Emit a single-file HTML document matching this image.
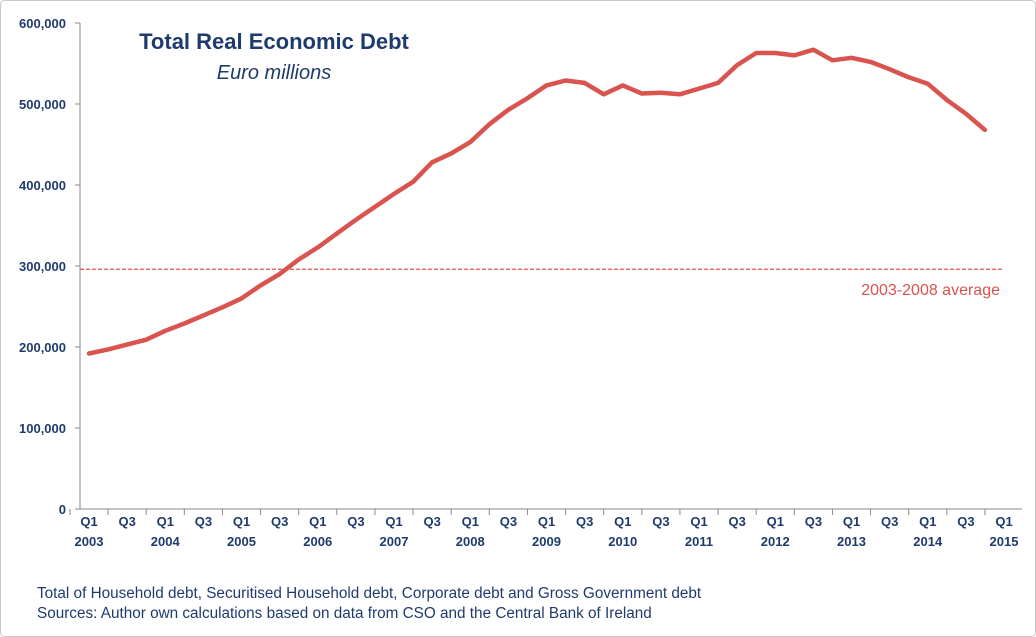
<!DOCTYPE html>
<html><head><meta charset="utf-8"><style>
html,body{margin:0;padding:0;background:#fff;}
svg{display:block;font-family:"Liberation Sans",sans-serif;}
</style></head><body>
<svg width="1036" height="637" viewBox="0 0 1036 637">
<rect x="0.5" y="0.5" width="1035" height="636" rx="4" fill="#fff" stroke="#c8c8c8"/>
<g id="grid"></g>
<g id="marks"></g>
<text x="274" y="49" text-anchor="middle" font-size="22" font-weight="bold" fill="#1f3b6e">Total Real Economic Debt</text>
<text x="274" y="79" text-anchor="middle" font-size="20" font-style="italic" fill="#1f3b6e">Euro millions</text>
<text x="37" y="598" font-size="15.3" fill="#1f3b6e">Total of Household debt, Securitised Household debt, Corporate debt and Gross Government debt</text>
<text x="37" y="618" font-size="15.3" fill="#1f3b6e">Sources: Author own calculations based on data from CSO and the Central Bank of Ireland</text>
</svg>
<script>
const debtValues=[192,197,203,209,220,229,239,249,260,276,290,308,323,340,357,373,389,404,428,439,453,475,493,507,523,529,526,512,523,513,514,512,519,526,548,563,563,560,567,554,557,552,543,533,525,505,488,468];
const averageValue=296;
const yTicks=[0,100000,200000,300000,400000,500000,600000];
const years=[2003,2004,2005,2006,2007,2008,2009,2010,2011,2012,2013,2014,2015];
const NS="http://www.w3.org/2000/svg";
const X0=89,QW=(1004-89)/48,Y0=509,YS=486/600;
function xq(i){return X0+QW*i;}
function yv(v){return Y0-v*YS;}
const grid=document.getElementById('grid'),marks=document.getElementById('marks');
function mk(tag,attrs,parent){const e=document.createElementNS(NS,tag);for(const k in attrs)e.setAttribute(k,attrs[k]);parent.appendChild(e);return e;}
let ax=mk('line',{x1:80,y1:23,x2:80,y2:509,stroke:'#888','stroke-width':1},grid);


let bx=mk('line',{x1:80,y1:509,x2:1022,y2:509,stroke:'#888','stroke-width':1},grid);


yTicks.forEach(t=>{
  const y=yv(t/1000);
  mk('line',{x1:75,y1:y,x2:80,y2:y,stroke:'#888'},grid);
  const tx=mk('text',{x:66,y:y+5,'text-anchor':'end','font-size':13,'font-weight':'bold',fill:'#1f3b6e'},grid);
  tx.textContent=t.toLocaleString('en-US');
  
  
});
for(let i=0;i<=48;i+=2){
  const x=xq(i);
  mk('line',{x1:x-QW,y1:509,x2:x-QW,y2:515,stroke:'#888'},grid);
  const t=mk('text',{x:x,y:526,'text-anchor':'middle','font-size':13,'font-weight':'bold',fill:'#1f3b6e'},grid);
  t.textContent=(i%4===0)?'Q1':'Q3';
  
  
  if(i%4===0){
    const yt=mk('text',{x:x,y:546,'text-anchor':'middle','font-size':13,'font-weight':'bold',fill:'#1f3b6e'},grid);
    yt.textContent=years[i/4];
    
    
  }
}
const avg=mk('line',{x1:80,y1:yv(averageValue),x2:1004,y2:yv(averageValue),stroke:'#d9534f','stroke-width':1.2,'stroke-dasharray':'4,2'},marks);


const al=mk('text',{x:1000,y:yv(averageValue)+26,'text-anchor':'end','font-size':16,fill:'#d9534f'},marks);
al.textContent='2003-2008 average';


const pts=debtValues.map((v,i)=>xq(i).toFixed(1)+','+yv(v).toFixed(1)).join(' ');
const ln=mk('polyline',{points:pts,fill:'none',stroke:'#d9534f','stroke-width':4.5,'stroke-linejoin':'round','stroke-linecap':'round'},marks);


</script>
</body></html>
